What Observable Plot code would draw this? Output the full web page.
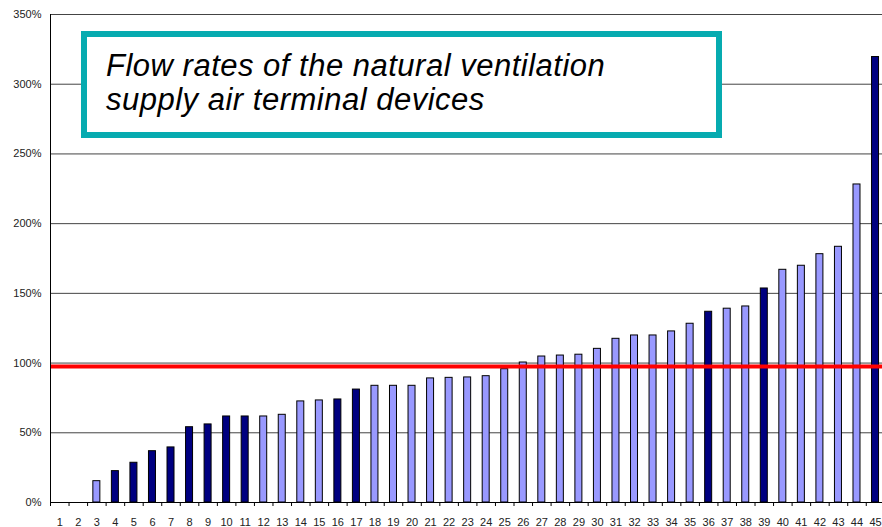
<!DOCTYPE html>
<html>
<head>
<meta charset="utf-8">
<script src="https://cdn.jsdelivr.net/npm/d3@7"></script>
<script src="https://cdn.jsdelivr.net/npm/@observablehq/plot@0.6"></script>
<style>
  body { margin: 0; background: #fff; }
  #wrap { position: relative; width: 882px; height: 527px; overflow: hidden; }
  #box {
    position: absolute; left: 81px; top: 31px; width: 629px; height: 95px;
    border: 6px solid #06abb0; background: #fff;
  }
  #box .t {
    position: absolute; left: 19px; top: 12px; white-space: nowrap;
    font: italic 31px "Liberation Sans", Arial, sans-serif; line-height: 34px; color: #000;
    letter-spacing: 0.5px;
  }
</style>
</head>
<body>
<div id="wrap">
  <div id="chart"></div>
  <div id="box"><div class="t">Flow rates of the natural ventilation<br>supply air terminal devices</div></div>
</div>
<script>
const categories = ["1","2","3","4","5","6","7","8","9","10","11","12","13","14","15","16","17","18","19","20","21","22","23","24","25","26","27","28","29","30","31","32","33","34","35","36","37","38","39","40","41","42","43","44","45"];
const values = [0, 0, 15.3, 22.5, 28.5, 36.8, 39.5, 54, 56, 61.7, 61.7, 61.7, 62.9, 72.5, 73.2, 73.9, 81, 83.7, 83.7, 83.7, 89, 89.4, 89.7, 90.6, 95.6, 100.4, 104.7, 105.4, 106, 110.2, 117.4, 119.8, 119.8, 122.7, 128.2, 136.8, 139, 140.6, 153.5, 166.9, 169.8, 178.1, 183.4, 228.1, 319.5];
const highlighted = ["4","5","6","7","8","9","10","11","16","17","36","39","45"];
const yTicks = [0, 50, 100, 150, 200, 250, 300, 350];
const referenceLine = [97.5];

const data = categories.map((c, i) => ({cat: c, value: values[i], dark: highlighted.includes(c)}));
const xRange = [50, 884.3];
const step = (xRange[1] - xRange[0]) / categories.length;
const inset = (step - 7) / 2;

const chart = Plot.plot({
  width: 882,
  height: 527,
  marginTop: 14,
  marginBottom: 25,
  marginLeft: 50,
  marginRight: 0,
  style: {fontFamily: "'Liberation Sans', Arial, sans-serif", fontSize: "11px", color: "#222", background: "#fff", overflow: "hidden"},
  x: {domain: categories, range: xRange, padding: 0, round: false, label: null},
  y: {domain: [0, 350], label: null},
  marks: [
    Plot.ruleY(yTicks, {stroke: "#444", strokeWidth: 1}),
    Plot.barY(data.filter(d => d.value > 0 && !d.dark), {x: "cat", y: "value", fill: "#9999ff", stroke: "#000", strokeWidth: 1, insetLeft: inset, insetRight: inset}),
    Plot.barY(data.filter(d => d.value > 0 && d.dark), {x: "cat", y: "value", fill: "#000080", stroke: "#000", strokeWidth: 1, insetLeft: inset, insetRight: inset}),
    Plot.ruleY(referenceLine, {stroke: "#ff0000", strokeWidth: 4}),
    Plot.ruleY([0], {stroke: "#000"}),
    Plot.ruleX([categories[0]], {stroke: "#000", dx: -step / 2}),
    Plot.axisY({ticks: yTicks, tickFormat: d => d + "%", tickSize: 0, tickPadding: 9, label: null}),
    Plot.axisX({tickSize: 4, tickFormat: () => "", dx: -step / 2, label: null, stroke: "#000"}),
    Plot.axisX({tickSize: 0, tickPadding: 16, label: null})
  ]
});
document.getElementById("chart").appendChild(chart);
</script>
</body>
</html>
